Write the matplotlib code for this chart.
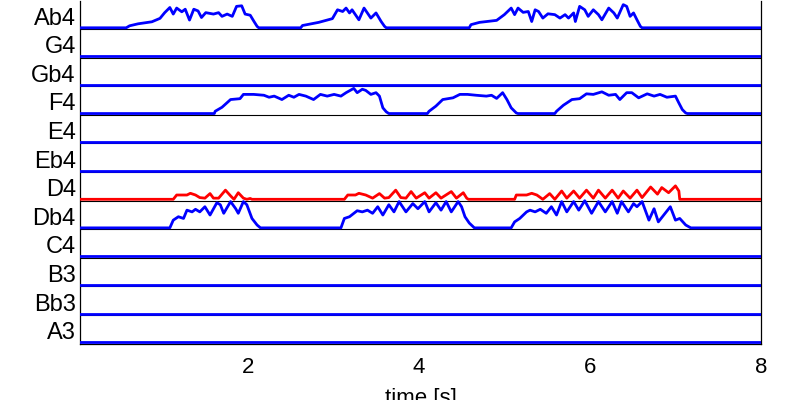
import matplotlib
matplotlib.use("Agg")
import matplotlib.pyplot as plt

plt.rcParams["font.family"] = ["Liberation Sans", "DejaVu Sans"]

# pitch rows, bottom to top
notes = ["A3", "Bb3", "B3", "C4", "Db4", "D4", "Eb4", "E4", "F4", "Gb4", "G4", "Ab4"]
x_ticks = [2, 4, 6, 8]
time_range = (0.04, 8.0)
highlight_note = "D4"

# envelopes as (time [s], amplitude in row units)
ab4 = [(0.04, 0), (0.58, 0), (0.62, 0.07), (0.72, 0.14), (0.88, 0.21), (0.975, 0.33), (1.03, 0.53),
       (1.09, 0.71), (1.13, 0.48), (1.17, 0.69), (1.23, 0.56), (1.27, 0.65), (1.32, 0.27), (1.37, 0.65),
       (1.42, 0.59), (1.46, 0.36), (1.51, 0.53), (1.60, 0.48), (1.66, 0.53), (1.70, 0.40), (1.76, 0.48),
       (1.82, 0.40), (1.87, 0.75), (1.93, 0.77), (1.97, 0.48), (2.03, 0.44), (2.07, 0.24), (2.11, 0.05),
       (2.13, 0),
       (2.62, 0), (2.64, 0.08), (2.83, 0.19), (2.99, 0.32), (3.05, 0.63), (3.11, 0.57), (3.15, 0.69),
       (3.19, 0.52), (3.22, 0.63), (3.30, 0.28), (3.36, 0.69), (3.44, 0.34), (3.50, 0.52), (3.56, 0.22),
       (3.60, 0.05), (3.62, 0),
       (4.59, 0), (4.61, 0.11), (4.71, 0.19), (4.91, 0.26), (5.00, 0.46), (5.08, 0.69), (5.12, 0.46),
       (5.16, 0.69), (5.22, 0.54), (5.28, 0.57), (5.32, 0.22), (5.36, 0.63), (5.40, 0.57), (5.45, 0.34),
       (5.51, 0.49), (5.59, 0.46), (5.65, 0.34), (5.71, 0.46), (5.75, 0.34), (5.81, 0.52), (5.83, 0.22),
       (5.88, 0.75), (5.94, 0.63), (5.98, 0.40), (6.04, 0.63), (6.10, 0.46), (6.14, 0.28), (6.22, 0.69),
       (6.28, 0.52), (6.32, 0.34), (6.39, 0.81), (6.43, 0.75), (6.47, 0.40), (6.51, 0.52), (6.55, 0.28),
       (6.59, 0.05), (6.61, 0), (8.0, 0)]

f4 = [(0.04, 0), (1.61, 0), (1.62, 0.08), (1.70, 0.22), (1.80, 0.49), (1.91, 0.52), (1.95, 0.67),
      (2.07, 0.67), (2.19, 0.64), (2.25, 0.57), (2.31, 0.61), (2.40, 0.49), (2.48, 0.64), (2.54, 0.57),
      (2.60, 0.67), (2.68, 0.61), (2.77, 0.49), (2.85, 0.67), (2.93, 0.61), (3.01, 0.67), (3.09, 0.61),
      (3.15, 0.73), (3.24, 0.88), (3.28, 0.73), (3.34, 0.85), (3.38, 0.81), (3.44, 0.67), (3.50, 0.73),
      (3.54, 0.61), (3.58, 0.20), (3.62, 0.06), (3.65, 0),
      (4.10, 0), (4.12, 0.08), (4.20, 0.26), (4.28, 0.49), (4.40, 0.55), (4.48, 0.67), (4.57, 0.67),
      (4.67, 0.64), (4.79, 0.61), (4.85, 0.64), (4.91, 0.53), (4.98, 0.73), (5.03, 0.49), (5.08, 0.20),
      (5.14, 0.02), (5.16, 0),
      (5.59, 0), (5.61, 0.08), (5.69, 0.29), (5.79, 0.49), (5.88, 0.52), (5.96, 0.69), (6.04, 0.67),
      (6.14, 0.76), (6.22, 0.64), (6.30, 0.67), (6.35, 0.49), (6.43, 0.73), (6.49, 0.73), (6.57, 0.55),
      (6.67, 0.69), (6.75, 0.61), (6.82, 0.67), (6.90, 0.57), (7.00, 0.61), (7.04, 0.37), (7.08, 0.14),
      (7.12, 0.02), (7.14, 0), (8.0, 0)]

d4 = [(0.04, 0), (1.13, 0), (1.17, 0.15), (1.29, 0.15), (1.33, 0.21), (1.39, 0.15), (1.44, 0.06),
      (1.50, 0.04), (1.56, 0.20), (1.60, 0.04), (1.66, 0.04), (1.74, 0.32), (1.80, 0.12), (1.84, 0),
      (1.89, 0.23), (1.95, 0.04), (1.99, 0), (2.03, 0.03), (2.05, 0),
      (3.13, 0), (3.17, 0.15), (3.26, 0.15), (3.30, 0.21), (3.38, 0.15), (3.46, 0.04), (3.54, 0.20),
      (3.60, 0.04), (3.65, 0.06), (3.73, 0.32), (3.79, 0.06), (3.85, 0.04), (3.91, 0.27), (3.97, 0.04),
      (4.07, 0.23), (4.12, 0.04), (4.20, 0.23), (4.26, 0.04), (4.38, 0.27), (4.44, 0.04), (4.52, 0.23),
      (4.56, 0.04), (4.58, 0),
      (5.12, 0), (5.14, 0.15), (5.26, 0.15), (5.32, 0.21), (5.38, 0.15), (5.45, 0), (5.53, 0.20),
      (5.59, 0), (5.67, 0.29), (5.73, 0.04), (5.81, 0.29), (5.88, 0.04), (5.96, 0.32), (6.04, 0.04),
      (6.10, 0.32), (6.18, 0.04), (6.26, 0.32), (6.33, 0.04), (6.39, 0.29), (6.47, 0.04), (6.55, 0.32),
      (6.61, 0.06), (6.71, 0.43), (6.79, 0.18), (6.84, 0.41), (6.92, 0.23), (7.00, 0.47), (7.04, 0.29),
      (7.05, 0), (8.0, 0)]

db4 = [(0.04, 0), (1.09, 0), (1.13, 0.27), (1.19, 0.39), (1.25, 0.33), (1.29, 0.62), (1.35, 0.56),
       (1.39, 0.65), (1.44, 0.56), (1.50, 0.74), (1.56, 0.45), (1.64, 0.88), (1.68, 0.81), (1.72, 0.51),
       (1.80, 0.92), (1.86, 0.67), (1.89, 0.51), (1.95, 0.92), (1.99, 0.81), (2.05, 0.33), (2.11, 0.10),
       (2.15, 0),
       (3.09, 0), (3.13, 0.33), (3.19, 0.39), (3.28, 0.60), (3.34, 0.56), (3.40, 0.62), (3.46, 0.51),
       (3.52, 0.74), (3.58, 0.45), (3.65, 0.81), (3.71, 0.56), (3.77, 0.92), (3.85, 0.56), (3.93, 0.85),
       (3.99, 0.67), (4.07, 0.92), (4.12, 0.56), (4.20, 0.88), (4.26, 0.62), (4.32, 0.92), (4.38, 0.56),
       (4.46, 0.92), (4.50, 0.74), (4.54, 0.39), (4.59, 0.17), (4.65, 0),
       (5.08, 0), (5.12, 0.21), (5.18, 0.33), (5.26, 0.56), (5.30, 0.62), (5.36, 0.56), (5.42, 0.65),
       (5.49, 0.51), (5.55, 0.74), (5.61, 0.45), (5.67, 0.92), (5.73, 0.56), (5.81, 0.92), (5.87, 0.62),
       (5.94, 0.95), (6.02, 0.51), (6.10, 0.92), (6.18, 0.56), (6.26, 0.92), (6.32, 0.51), (6.37, 0.92),
       (6.45, 0.56), (6.51, 0.85), (6.55, 0.74), (6.61, 0.92), (6.69, 0.27), (6.75, 0.67), (6.80, 0.21),
       (6.94, 0.74), (7.00, 0.27), (7.05, 0.33), (7.12, 0.10), (7.18, 0), (8.0, 0)]

flat = [(time_range[0], 0), (time_range[1], 0)]
envelopes = {"Ab4": ab4, "F4": f4, "D4": d4, "Db4": db4}

fig = plt.figure(figsize=(8, 4), dpi=100)
ax = fig.add_axes([80 / 800, (400 - 343.5) / 400, (761 - 80) / 800, 343 / 400])

base_shift = 0.045
for i, note in enumerate(notes):
    pts = envelopes.get(note, flat)
    t = [p[0] for p in pts]
    v = [p[1] + i + base_shift for p in pts]
    color = "#ff0000" if note == highlight_note else "#0000ff"
    ax.plot(t, v, color=color, lw=2.0, zorder=3, solid_joinstyle="round")
    if i > 0:
        ax.axhline(i, color="black", lw=0.8, zorder=2)

ax.set_xlim(*time_range)
ax.set_ylim(0, len(notes))
ax.set_yticks([i + 0.45 for i in range(len(notes))])
ax.set_yticklabels(notes)
ax.set_xticks(x_ticks)
ax.set_xticklabels([str(x) for x in x_ticks])
ax.tick_params(axis="both", length=0, labelsize=16)
ax.tick_params(axis="y", pad=3, labelsize=17)
ax.tick_params(axis="x", pad=10)
ax.spines["top"].set_visible(False)
for s in ["left", "right", "bottom"]:
    ax.spines[s].set_linewidth(0.9)
ax.set_xlabel("time [s]", fontsize=16, labelpad=7)

fig.savefig("out.png", dpi=100)
